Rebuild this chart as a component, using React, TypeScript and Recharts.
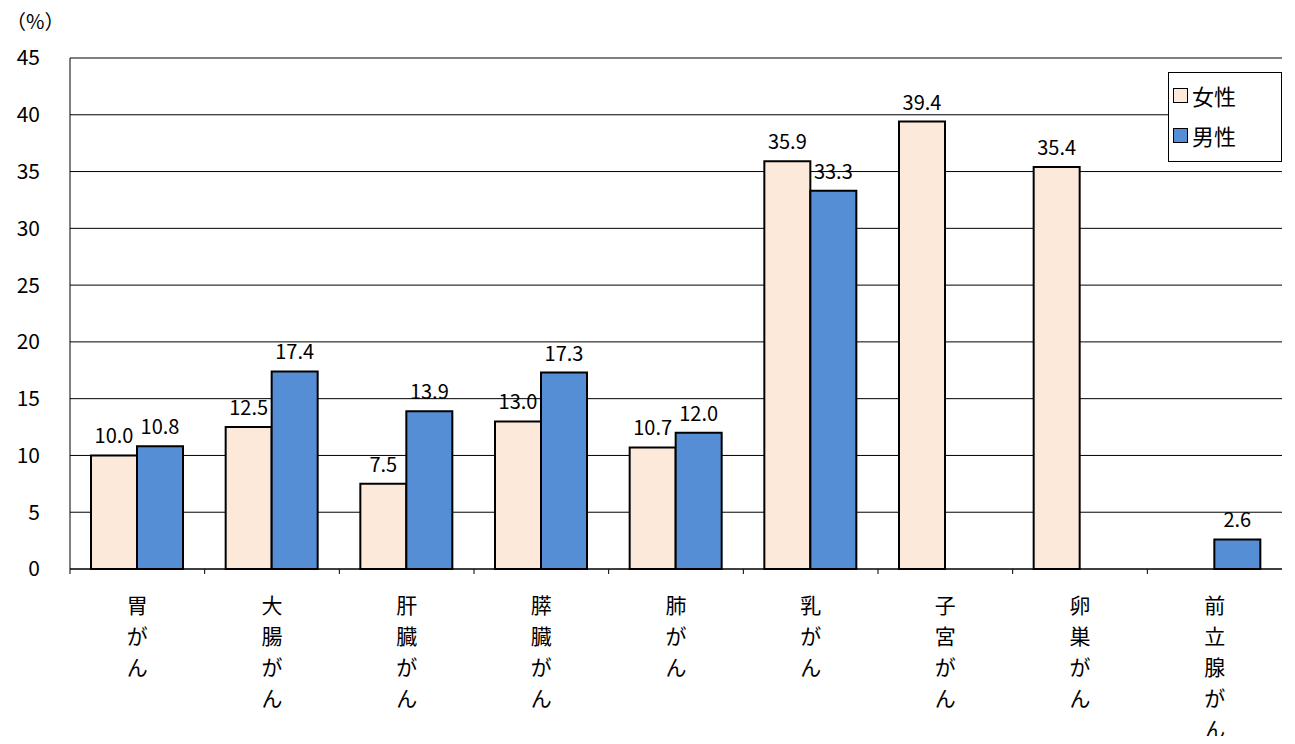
import { BarChart, Bar, XAxis, YAxis, CartesianGrid, LabelList } from 'recharts';

const categories = ['胃がん', '大腸がん', '肝臓がん', '膵臓がん', '肺がん', '乳がん', '子宮がん', '卵巣がん', '前立腺がん'];
const female = [10.0, 12.5, 7.5, 13.0, 10.7, 35.9, 39.4, 35.4, null];
const male = [10.8, 17.4, 13.9, 17.3, 12.0, 33.3, null, null, 2.6];
const yTicks = [0, 5, 10, 15, 20, 25, 30, 35, 40, 45];

const FONT = '"Noto Sans CJK JP", "Noto Sans", sans-serif';

const data = categories.map((name, i) => ({ name, female: female[i], male: male[i] }));

function CategoryTick({ x, y, payload }: any) {
  const chars = String(payload.value).split('');
  const half = 1212 / 9 / 2;
  return (
    <g>
      <line x1={x - half} y1={y - 8} x2={x - half} y2={y - 3} stroke="#000" />
      <text x={x} y={y} textAnchor="middle" fontSize={21} fontFamily={FONT} fill="#000">
        {chars.map((c, i) => (
          <tspan key={i} x={x} dy={i === 0 ? 36 : 31}>{c}</tspan>
        ))}
      </text>
    </g>
  );
}

function LegendBox() {
  const row = (fill: string, label: string) => (
    <div style={{ display: 'flex', alignItems: 'center', height: 40 }}>
      <span style={{ width: 13, height: 13, background: fill, border: '1.5px solid #000', marginRight: 4 }} />
      <span style={{ fontSize: 22 }}>{label}</span>
    </div>
  );
  return (
    <div style={{ position: 'absolute', left: 1168, top: 72, width: 104, height: 84, border: '1px solid #000', background: '#fff', padding: '2px 4px', fontFamily: FONT }}>
      {row('#FDE9D9', '女性')}
      {row('#558ED5', '男性')}
    </div>
  );
}

export default function App() {
  return (
    <div style={{ margin: -8, position: 'relative', width: 1295, height: 744, background: '#fff', fontFamily: FONT }}>
      <div style={{ position: 'absolute', left: 6, top: 6, fontSize: 20, fontFamily: FONT }}>（%）</div>
      <BarChart width={1295} height={744} data={data} margin={{ top: 58, right: 13, bottom: 0, left: 0 }} barSize={46} barGap={0}>
        <CartesianGrid vertical={false} stroke="#000" strokeWidth={1} />
        <XAxis dataKey="name" height={175} tick={<CategoryTick />} tickLine={false} axisLine={{ stroke: '#000' }} interval={0} />
        <YAxis domain={[0, 45]} ticks={yTicks} width={70} tick={{ fontSize: 21, fill: '#000', fontFamily: FONT, dx: -22 }} tickLine={false} axisLine={{ stroke: '#000' }} />
        <Bar dataKey="female" name="女性" fill="#FDE9D9" stroke="#000" strokeWidth={2} isAnimationActive={false}>
          <LabelList dataKey="female" position="top" offset={12} fontSize={20} fill="#000" fontFamily={FONT} formatter={(v: any) => (v == null ? '' : Number(v).toFixed(1))} />
        </Bar>
        <Bar dataKey="male" name="男性" fill="#558ED5" stroke="#000" strokeWidth={2} isAnimationActive={false}>
          <LabelList dataKey="male" position="top" offset={12} fontSize={20} fill="#000" fontFamily={FONT} formatter={(v: any) => (v == null ? '' : Number(v).toFixed(1))} />
        </Bar>
      </BarChart>
      <LegendBox />
    </div>
  );
}
